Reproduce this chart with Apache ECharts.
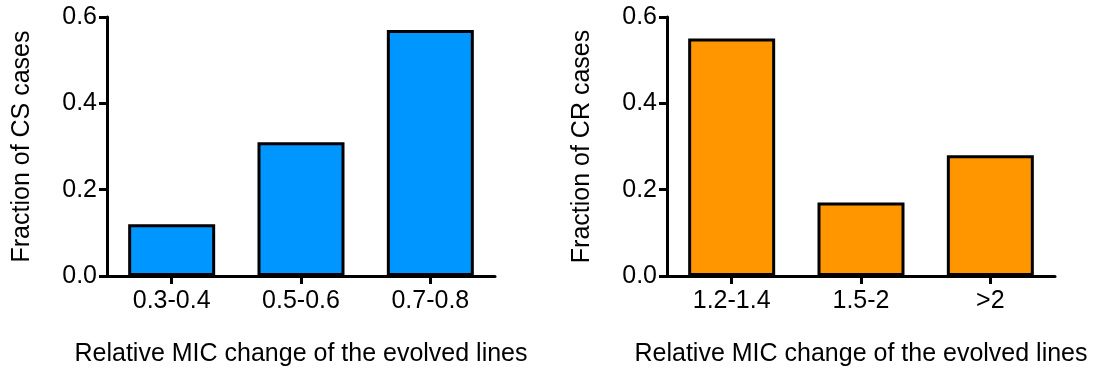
<!DOCTYPE html>
<html>
<head>
<meta charset="utf-8">
<script src="https://cdn.jsdelivr.net/npm/echarts@6/dist/echarts.min.js"></script>
<style>
html,body{margin:0;padding:0;background:#fff;}
#chart{width:1095px;height:373px;}
</style>
</head>
<body>
<div id="chart"></div>
<script>
const categoriesCS = ['0.3-0.4', '0.5-0.6', '0.7-0.8'];
const valuesCS = [0.12, 0.31, 0.57];
const categoriesCR = ['1.2-1.4', '1.5-2', '>2'];
const valuesCR = [0.55, 0.17, 0.28];
const yTicks = [0, 0.2, 0.4, 0.6];
const xTitle = 'Relative MIC change of the evolved lines';
const yTitleCS = 'Fraction of CS cases';
const yTitleCR = 'Fraction of CR cases';

const FONT = '"Liberation Sans", Arial, Helvetica, sans-serif';

function xAxis(gridIndex, cats) {
  return {
    type: 'category', gridIndex, data: cats,
    boundaryGap: true,
    name: xTitle, nameLocation: 'middle', nameGap: 66,
    nameTextStyle: { fontFamily: FONT, fontSize: 25, color: '#000' },
    axisLine: { show: true, lineStyle: { color: '#000', width: 3 } },
    axisTick: { show: true, alignWithLabel: true, length: 8, lineStyle: { color: '#000', width: 3 } },
    axisLabel: { fontFamily: FONT, fontSize: 25, color: '#000', margin: 13, interval: 0 },
    splitLine: { show: false }
  };
}
function yAxis(gridIndex, title) {
  return {
    type: 'value', gridIndex,
    min: yTicks[0], max: yTicks[yTicks.length - 1], interval: 0.2,
    name: title, nameLocation: 'middle', nameGap: 72, nameRotate: 90,
    nameTextStyle: { fontFamily: FONT, fontSize: 25, color: '#000' },
    axisLine: { show: true, lineStyle: { color: '#000', width: 3 } },
    axisTick: { show: true, length: 8, lineStyle: { color: '#000', width: 3 } },
    axisLabel: { fontFamily: FONT, fontSize: 25, color: '#000', margin: 10,
      formatter: v => v.toFixed(1) },
    splitLine: { show: false }
  };
}
function bars(idx, vals, color) {
  return {
    type: 'bar', xAxisIndex: idx, yAxisIndex: idx, data: vals,
    barWidth: 87,
    itemStyle: { color, borderColor: '#000', borderWidth: 3 },
    silent: true
  };
}

const chart = echarts.init(document.getElementById('chart'), null, { renderer: 'canvas' });
chart.setOption({
  animation: false,
  backgroundColor: '#fff',
  grid: [
    { left: 107, top: 17, width: 388, height: 259 },
    { left: 667, top: 17, width: 388, height: 259 }
  ],
  xAxis: [xAxis(0, categoriesCS), xAxis(1, categoriesCR)],
  yAxis: [yAxis(0, yTitleCS), yAxis(1, yTitleCR)],
  series: [bars(0, valuesCS, '#0096FF'), bars(1, valuesCR, '#FF9600')]
});
</script>
</body>
</html>
